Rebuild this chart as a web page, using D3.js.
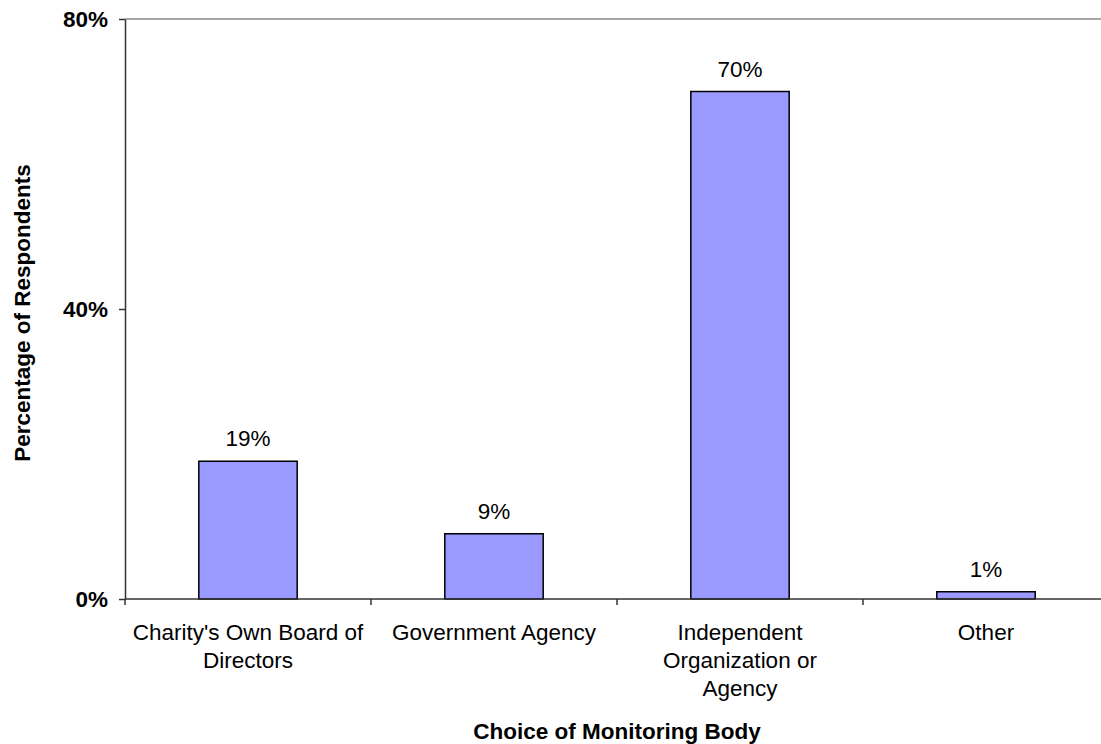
<!DOCTYPE html>
<html>
<head>
<meta charset="utf-8">
<script src="https://cdn.jsdelivr.net/npm/d3@7"></script>
<style>
  html, body { margin: 0; padding: 0; background: #fff; }
  svg { display: block; }
  text { font-family: "Liberation Sans", Arial, sans-serif; fill: #000; }
</style>
</head>
<body>
<svg id="chart" width="1101" height="744"></svg>
<script>
// Survey: preferred body to monitor charities
const categories = ["charity", "government", "independent", "other"];
const categoryLabels = [
  ["Charity's Own Board of", "Directors"],
  ["Government Agency"],
  ["Independent", "Organization or", "Agency"],
  ["Other"]
];
const shares = [0.19, 0.09, 0.70, 0.01];
const yTicks = [0, 0.4, 0.8];
const xTitle = "Choice of Monitoring Body";
const yTitle = "Percentage of Respondents";

const svg = d3.select("#chart");
const plotLeft = 125, plotRight = 1109, plotTop = 19, plotBottom = 599;
const fontSize = 22.5;

const x = d3.scaleBand()
  .domain(categories)
  .range([plotLeft, plotRight])
  .paddingInner(0.6)
  .paddingOuter(0.3);

const y = d3.scaleLinear().domain([0, 0.8]).range([plotBottom, plotTop]);
const pct = d3.format(".0%");

// top frame line
svg.append("line")
  .attr("x1", plotLeft).attr("x2", plotRight)
  .attr("y1", y(0.8)).attr("y2", y(0.8))
  .attr("stroke", "#888").attr("stroke-width", 1.6);

// bars
svg.append("g").selectAll("rect")
  .data(categories)
  .join("rect")
  .attr("x", d => x(d))
  .attr("width", x.bandwidth())
  .attr("y", (d, i) => y(shares[i]))
  .attr("height", (d, i) => y(0) - y(shares[i]))
  .attr("fill", "#9999FF")
  .attr("stroke", "#000")
  .attr("stroke-width", 1.5);

// value labels
svg.append("g").selectAll("text")
  .data(categories)
  .join("text")
  .attr("x", d => x(d) + x.bandwidth() / 2)
  .attr("y", (d, i) => y(shares[i]) - 15)
  .attr("text-anchor", "middle")
  .style("font-size", fontSize + "px")
  .text((d, i) => pct(shares[i]));

// y axis
const yAxis = svg.append("g").attr("transform", `translate(${plotLeft},0)`)
  .call(d3.axisLeft(y).tickValues(yTicks).tickFormat(pct).tickSizeOuter(0).tickSizeInner(6).tickPadding(11));
yAxis.select(".domain").attr("stroke", "#333").attr("stroke-width", 1.5);
yAxis.selectAll(".tick line").attr("stroke", "#333").attr("stroke-width", 1.5);
yAxis.selectAll(".tick text")
  .attr("font-family", null)
  .style("font-size", fontSize + "px")
  .style("font-weight", "bold")
  .attr("dy", "0.35em");

// x axis: ticks at category boundaries
const step = x.step();
const boundaries = d3.range(categories.length + 1).map(i => plotLeft + i * step);
const xAxisG = svg.append("g");
xAxisG.append("line")
  .attr("x1", plotLeft).attr("x2", plotRight)
  .attr("y1", plotBottom).attr("y2", plotBottom)
  .attr("stroke", "#333").attr("stroke-width", 1.5);
xAxisG.selectAll("line.tick")
  .data(boundaries)
  .join("line")
  .attr("class", "tick")
  .attr("x1", d => d).attr("x2", d => d)
  .attr("y1", plotBottom).attr("y2", plotBottom + 6)
  .attr("stroke", "#333").attr("stroke-width", 1.5);

// category labels
const labelG = svg.append("g");
categories.forEach((c, i) => {
  const cx = x(c) + x.bandwidth() / 2;
  const t = labelG.append("text")
    .attr("text-anchor", "middle")
    .style("font-size", fontSize + "px");
  categoryLabels[i].forEach((line, j) => {
    t.append("tspan")
      .attr("x", cx)
      .attr("y", 640 + j * 28)
      .text(line);
  });
});

// axis titles
svg.append("text")
  .attr("x", (plotLeft + plotRight) / 2)
  .attr("y", 739)
  .attr("text-anchor", "middle")
  .style("font-size", fontSize + "px")
  .style("font-weight", "bold")
  .text(xTitle);

svg.append("text")
  .attr("transform", "translate(30,313) rotate(-90)")
  .attr("text-anchor", "middle")
  .style("font-size", fontSize + "px")
  .style("font-weight", "bold")
  .text(yTitle);
</script>
</body>
</html>
